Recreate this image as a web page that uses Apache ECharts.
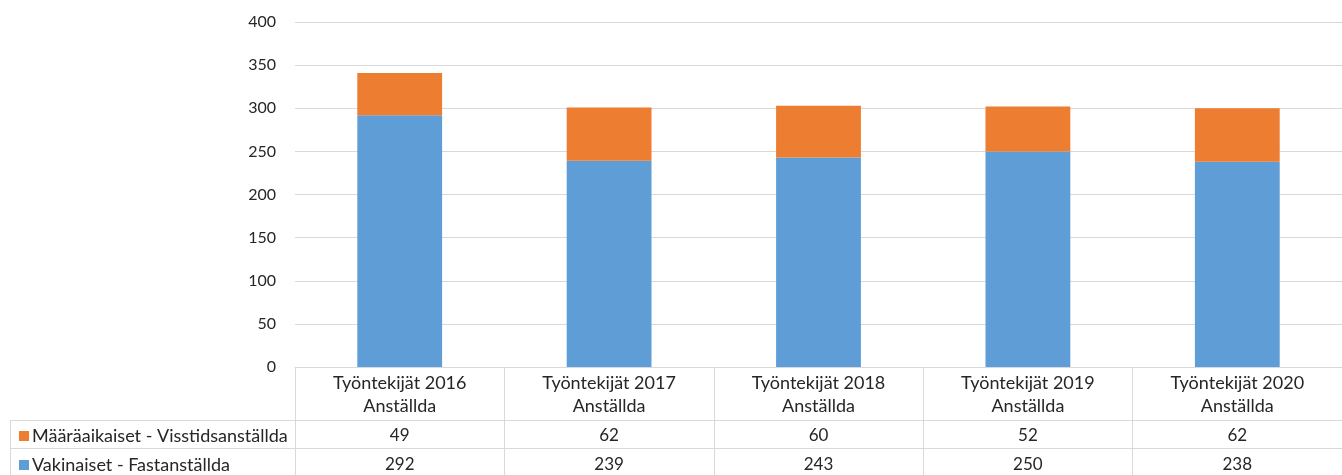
<!DOCTYPE html>
<html>
<head>
<meta charset="utf-8">
<script src="https://cdn.jsdelivr.net/npm/echarts@6/dist/echarts.min.js"></script>
<style>
    html, body { margin: 0; padding: 0; background: #fff; }
    #chart { width: 1342px; height: 475px; }
</style>
</head>
<body>
<div id="chart"></div>
<script>
const categories = [
    "Työntekijät 2016\nAnställda",
    "Työntekijät 2017\nAnställda",
    "Työntekijät 2018\nAnställda",
    "Työntekijät 2019\nAnställda",
    "Työntekijät 2020\nAnställda",
]
const fixedName = "Vakinaiset - Fastanställda"
const fixedValues = [292, 239, 243, 250, 238]
const tempName = "Määräaikaiset - Visstidsanställda"
const tempValues = [49, 62, 60, 52, 62]
const yTicks = { min: 0, max: 400, interval: 50 }

const font = "Lato, 'Open Sans', sans-serif"
const textColor = "#262626"
const lineColor = "#d9d9d9"
const blue = "#5e9dd6"
const orange = "#ed7d31"

// one x axis per table row, stacked below the plot
function tableAxis(data, offset, tickLen, margin, fontSize, lineHeight) {
    return {
        type: "category",
        data: data,
        position: "bottom",
        offset: offset,
        axisLine: { show: true, lineStyle: { color: lineColor, width: 1 } },
        axisTick: { show: true, length: tickLen, lineStyle: { color: lineColor } },
        axisLabel: {
            interval: 0,
            margin: margin,
            color: textColor,
            fontFamily: font,
            fontSize: fontSize,
            lineHeight: lineHeight,
        },
        splitLine: { show: false },
    }
}

function legendRow(name, top) {
    return {
        left: 14,
        top: top,
        itemWidth: 10,
        itemHeight: 10,
        icon: "rect",
        selectedMode: false,
        data: [name],
        textStyle: { color: textColor, fontSize: 18, lineHeight: 18, fontFamily: font, padding: [0, 0, 0, -2] },
    }
}

const chart = echarts.init(document.getElementById("chart"))
chart.setOption({
    animation: false,
    textStyle: { fontFamily: font },
    grid: { left: 295, right: 0, top: 22, bottom: 108 },
    legend: [
        legendRow(tempName, 422),
        legendRow(fixedName, 451),
    ],
    xAxis: [
        tableAxis(categories, 0, 53, 5, 18, 23),
        tableAxis(tempValues.map(String), 53, 28, 7, 17, 18),
        tableAxis(fixedValues.map(String), 81, 27, 8, 17, 18),
    ],
    yAxis: {
        type: "value",
        min: yTicks.min,
        max: yTicks.max,
        interval: yTicks.interval,
        axisLine: { show: false },
        axisTick: { show: false },
        axisLabel: { color: textColor, fontSize: 16, fontFamily: font, margin: 19 },
        splitLine: { lineStyle: { color: lineColor, width: 1 } },
    },
    // row borders of the legend column left of the plot
    graphic: [
        { type: "line", shape: { x1: 10, y1: 420.5, x2: 295, y2: 420.5 }, style: { stroke: lineColor, lineWidth: 1 } },
        { type: "line", shape: { x1: 10, y1: 448.5, x2: 295, y2: 448.5 }, style: { stroke: lineColor, lineWidth: 1 } },
        { type: "line", shape: { x1: 10.5, y1: 420, x2: 10.5, y2: 475 }, style: { stroke: lineColor, lineWidth: 1 } },
    ],
    series: [
        {
            name: fixedName,
            type: "bar",
            stack: "total",
            barWidth: "40.5%",
            itemStyle: { color: blue },
            data: fixedValues,
        },
        {
            name: tempName,
            type: "bar",
            stack: "total",
            barWidth: "40.5%",
            itemStyle: { color: orange },
            data: tempValues,
        },
    ],
})
</script>
</body>
</html>
